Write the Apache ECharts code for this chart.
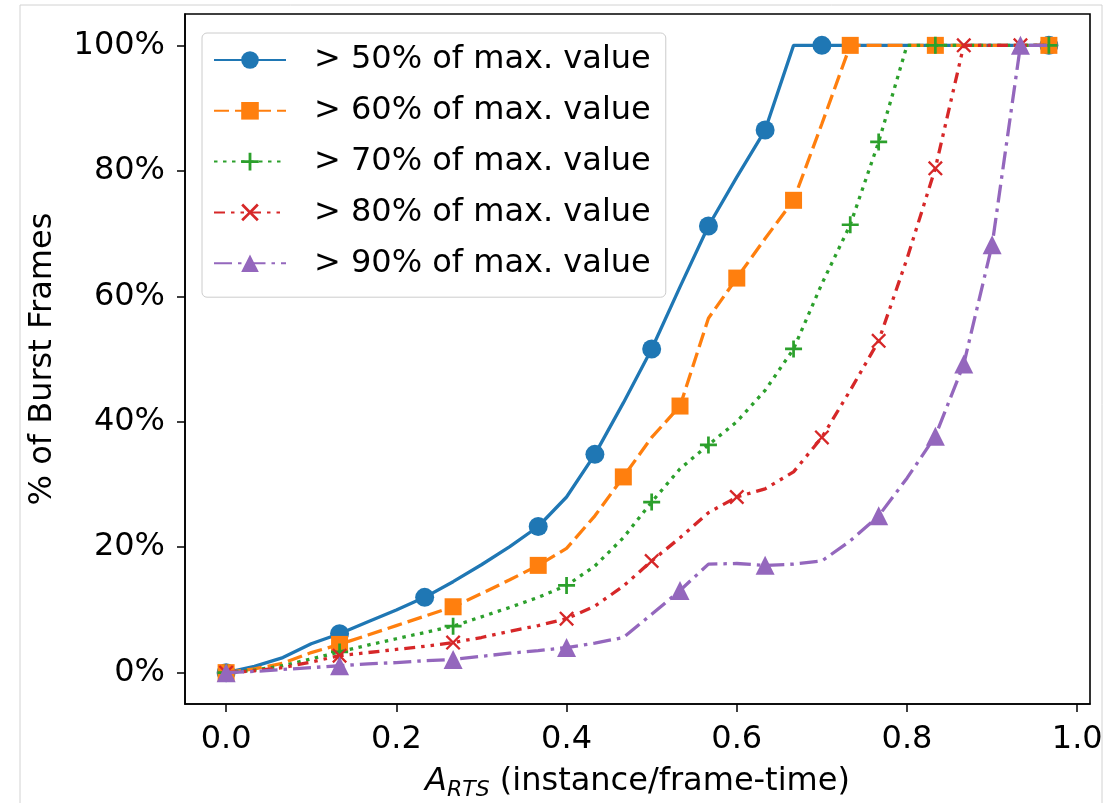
<!DOCTYPE html>
<html>
<head>
<meta charset="utf-8">
<script src="https://cdn.jsdelivr.net/npm/echarts@6/dist/echarts.min.js"></script>
<style>
html,body{margin:0;padding:0;background:#fff;}
#chart{width:1120px;height:803px;}
</style>
</head>
<body>
<div id="chart"></div>
<script>
// ---- data ----
const xValues = [0, 0.0333, 0.0667, 0.1, 0.1333, 0.1667, 0.2, 0.2333, 0.2667, 0.3,
                 0.3333, 0.3667, 0.4, 0.4333, 0.4667, 0.5, 0.5333, 0.5667, 0.6, 0.6333,
                 0.6667, 0.7, 0.7333, 0.7667, 0.8, 0.8333, 0.8667, 0.9, 0.9333, 0.9667];

const seriesNames = ['> 50% of max. value', '> 60% of max. value', '> 70% of max. value',
                     '> 80% of max. value', '> 90% of max. value'];

const values50 = [0, 1, 2.4, 4.6, 6.2, 8.1, 10, 12, 14.5, 17.2,
                  20.1, 23.3, 28, 34.8, 43, 51.6, 61.5, 71.2, 79, 86.5,
                  100, 100, 100, 100, 100, 100, 100, 100, 100, 100];
const values60 = [0, 0.6, 1.5, 3.2, 4.5, 6, 7.5, 9, 10.5, 12.6,
                  14.8, 17.1, 19.8, 25, 31.2, 37.5, 42.5, 56.5, 62.9, 69.2,
                  75.3, 87.5, 100, 100, 100, 100, 100, 100, 100, 100];
const values70 = [0, 0.4, 1.1, 2.2, 3.3, 4.4, 5.4, 6.4, 7.4, 8.9,
                  10.4, 12, 13.9, 17, 21.5, 27.2, 32.5, 36.3, 40, 45,
                  51.6, 62, 71.4, 84.6, 100, 100, 100, 100, 100, 100];
const values80 = [0, 0.3, 0.8, 1.7, 2.7, 3.2, 3.7, 4.2, 4.8, 5.6,
                  6.6, 7.5, 8.6, 10.6, 13.8, 17.8, 21.5, 25.5, 28, 29.3,
                  32, 37.5, 45, 52.9, 66, 80.4, 100, 100, 100, 100];
const values90 = [0, 0.2, 0.5, 0.8, 1.1, 1.4, 1.6, 1.9, 2.1, 2.6,
                  3.1, 3.5, 4.0, 4.7, 5.6, 9.3, 13.1, 17.3, 17.4, 17.1,
                  17.3, 17.8, 21, 25, 31, 37.7, 49.2, 68.2, 100, 100];

// indices of points that carry a marker
const marks50 = [0, 4, 7, 11, 13, 15, 17, 19, 21, 29];
const marks60 = [0, 4, 8, 11, 14, 16, 18, 20, 22, 25, 29];
const marks70 = [0, 4, 8, 12, 15, 17, 20, 22, 23, 25, 29];
const marks80 = [0, 4, 8, 12, 15, 18, 21, 23, 25, 26, 28];
const marks90 = [0, 4, 8, 12, 16, 19, 23, 25, 26, 27, 28];

const xTicks = [0, 0.2, 0.4, 0.6, 0.8, 1.0];
const yTicks = [0, 20, 40, 60, 80, 100];

// ---- chart ----
const FONT = 'DejaVu Sans';
const FS = 32;
const PLUS = 'path://M4.2,0H5.8V4.2H10V5.8H5.8V10H4.2V5.8H0V4.2H4.2Z';
const CROSS = 'path://M0,1.1L1.1,0L5,3.9L8.9,0L10,1.1L6.1,5L10,8.9L8.9,10L5,6.1L1.1,10L0,8.9L3.9,5Z';

const styles = [
  {vals: values50, marks: marks50, color: '#1f77b4', symbol: 'circle', size: 19, dash: 'solid'},
  {vals: values60, marks: marks60, color: '#ff7f0e', symbol: 'rect', size: 17, dash: [15, 6]},
  {vals: values70, marks: marks70, color: '#2ca02c', symbol: PLUS, size: 17, dash: [3.5, 5.5]},
  {vals: values80, marks: marks80, color: '#d62728', symbol: CROSS, size: 15, dash: [11, 6, 3.5, 6, 3.5, 6]},
  {vals: values90, marks: marks90, color: '#9467bd', symbol: 'triangle', size: 19, dash: [18, 6, 3.5, 6]}
];

const series = styles.map((s, k) => ({
  type: 'line',
  name: seriesNames[k],
  data: xValues.map((x, i) => s.marks.indexOf(i) >= 0
      ? {value: [x, s.vals[i]]}
      : {value: [x, s.vals[i]], symbol: 'none'}),
  symbol: s.symbol,
  symbolSize: s.size,
  showSymbol: true,
  showAllSymbol: true,
  smooth: false,
  lineStyle: {color: s.color, width: 3.3, type: s.dash},
  itemStyle: {color: s.color, opacity: 1},
  emphasis: {disabled: true},
  animation: false,
  z: 2 + k
}));

const chart = echarts.init(document.getElementById('chart'), null, {renderer: 'canvas'});
chart.setOption({
  backgroundColor: '#ffffff',
  animation: false,
  textStyle: {fontFamily: FONT},
  grid: {
    left: 185, right: 30, top: 14, bottom: 99,
    show: true, borderColor: '#000', borderWidth: 1.6, backgroundColor: 'transparent',
    containLabel: false, outerBoundsMode: 'none'
  },
  graphic: [{
    type: 'rect', silent: true, z: -10,
    shape: {x: 20, y: 5, width: 1082, height: 820},
    style: {fill: 'none', stroke: '#d2d2d2', lineWidth: 1}
  }],
  legend: {
    left: 202, top: 33,
    orient: 'vertical',
    data: seriesNames,
    itemWidth: 72, itemHeight: 22, itemGap: 14.8,
    padding: [9, 15, 16, 11],
    backgroundColor: 'rgba(255,255,255,0.8)',
    borderColor: '#cccccc', borderWidth: 1, borderRadius: 5,
    textStyle: {fontFamily: FONT, fontSize: FS, color: '#000', lineHeight: 36, padding: [0, 0, 0, 23]},
    selectedMode: false,
    z: 20
  },
  xAxis: {
    type: 'value',
    min: -0.0483, max: 1.015,
    name: '{a|A}{s|RTS} (instance/frame-time)',
    nameLocation: 'middle',
    nameGap: 58,
    nameTextStyle: {
      fontFamily: FONT, fontSize: FS, color: '#000',
      rich: {
        a: {fontFamily: FONT, fontSize: FS, fontStyle: 'italic', color: '#000'},
        s: {fontFamily: FONT, fontSize: 22, fontStyle: 'italic', color: '#000', padding: [17, 0, 0, 0]}
      }
    },
    axisLine: {show: true, onZero: false, lineStyle: {color: '#000', width: 1.6}},
    axisTick: {show: true, customValues: xTicks, length: 8, inside: false, lineStyle: {color: '#000', width: 1.5}},
    axisLabel: {
      customValues: xTicks, margin: 20, fontFamily: FONT, fontSize: FS, color: '#000',
      formatter: v => Number(v).toFixed(1)
    },
    splitLine: {show: false}
  },
  yAxis: {
    type: 'value',
    min: -5, max: 105,
    name: '% of Burst Frames',
    nameLocation: 'middle',
    nameGap: 126,
    nameRotate: 90,
    nameTextStyle: {fontFamily: FONT, fontSize: FS, color: '#000'},
    axisLine: {show: true, onZero: false, lineStyle: {color: '#000', width: 1.6}},
    axisTick: {show: true, customValues: yTicks, length: 8, inside: false, lineStyle: {color: '#000', width: 1.5}},
    axisLabel: {
      customValues: yTicks, margin: 20, fontFamily: FONT, fontSize: FS, color: '#000',
      formatter: v => Math.round(v) + '%'
    },
    splitLine: {show: false}
  },
  series: series
});
</script>
</body>
</html>
